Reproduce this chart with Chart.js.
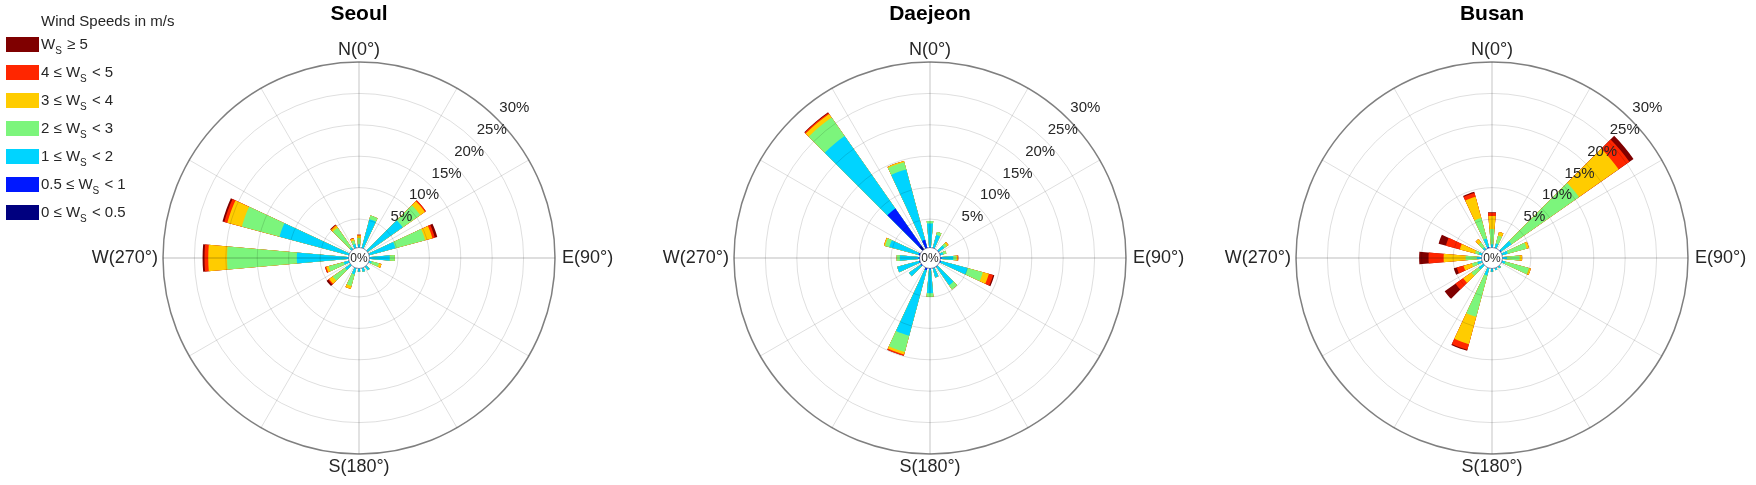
<!DOCTYPE html>
<html>
<head>
<meta charset="utf-8">
<title>Wind roses</title>
<script src="https://cdn.jsdelivr.net/npm/chart.js@4.4.1/dist/chart.umd.min.js"></script>
<style>
  body { margin: 0; background: #fff; }
  #wrap { position: relative; width: 1756px; height: 485px; }
  .layer { position: absolute; left: 0; top: 0; width: 1756px; height: 485px; }
</style>
</head>
<body>
<div id="wrap">
  <div class="layer"><canvas id="seoul"></canvas></div>
  <div class="layer"><canvas id="daejeon"></canvas></div>
  <div class="layer"><canvas id="busan"></canvas></div>
</div>
<script>
// direction sectors that carry data (degrees, clockwise from north)
const directions = [0, 20, 50, 70, 90, 110, 140, 160, 180, 200, 230, 250, 270, 290, 320, 340];

// speed classes, slowest first
const speedLabels = ['0 ≤ W_S < 0.5', '0.5 ≤ W_S < 1', '1 ≤ W_S < 2', '2 ≤ W_S < 3',
                     '3 ≤ W_S < 4', '4 ≤ W_S < 5', 'W_S ≥ 5'];
const speedColors = ['#00007f', '#0018ff', '#00d4ff', '#7cf57c', '#ffcc00', '#ff2600', '#7f0000'];

const rTicks = [5, 10, 15, 20, 25, 30]; // % frequency rings

// frequency (%) per speed class (rows, slowest first) and direction (columns)
const seoulFreq = [
  [0.1, 0.1, 0.1, 0.1, 0.1, 0.1, 0.1, 0.1, 0.1, 0.1, 0.1, 0.1, 0.1, 0.1, 0.1, 0.1],
  [0.2, 0.2, 0.2, 0.2, 0.2, 0.2, 0.3, 0.2, 0.2, 0.2, 0.2, 0.2, 0.3, 0.3, 0.2, 0.2],
  [0.7, 4.9, 7.0, 4.5, 3.4, 0.6, 0.8, 0.8, 0.7, 1.2, 1.2, 1.0, 8.3, 11.5, 0.6, 0.8],
  [1.0, 0.6, 3.4, 4.9, 0.8, 1.2, 0, 0, 0, 1.9, 2.4, 2.5, 11.1, 6.2, 3.8, 0.6],
  [0.4, 0, 0.9, 1.2, 0, 0.4, 0, 0, 0, 0.5, 0.7, 0.4, 3.0, 2.4, 0.4, 0.3],
  [0.1, 0, 0.2, 0.4, 0, 0, 0, 0, 0, 0, 0.2, 0.2, 0.6, 0.5, 0.1, 0.1],
  [0, 0, 0, 0.4, 0, 0, 0, 0, 0, 0, 0.3, 0, 0.3, 0.3, 0.1, 0]
];
const daejeonFreq = [
  [0.2, 0.2, 0.2, 0.2, 0.2, 0.2, 0.2, 0.2, 0.2, 0.3, 0.2, 0.2, 0.2, 0.2, 1.2, 0.5],
  [0.3, 0.3, 0.3, 0.3, 0.4, 0.4, 0.3, 0.3, 0.4, 0.5, 0.4, 0.4, 0.4, 0.5, 7.2, 1.3],
  [3.8, 2.1, 1.1, 0.5, 1.9, 4.4, 3.6, 1.5, 3.8, 10.8, 2.3, 3.6, 3.0, 4.8, 14.1, 11.6],
  [0.4, 0.5, 0.5, 0.5, 0.5, 2.5, 0.8, 0, 0.6, 2.7, 0, 0, 0.5, 0.7, 3.6, 1.2],
  [0, 0, 0.3, 0, 0.2, 1.0, 0, 0, 0, 0.4, 0, 0, 0, 0.2, 0.7, 0.2],
  [0, 0, 0, 0, 0.1, 0.7, 0, 0, 0, 0.2, 0, 0, 0, 0, 0.2, 0],
  [0, 0, 0, 0, 0, 0.2, 0, 0, 0, 0, 0, 0, 0, 0, 0.1, 0]
];
const busanFreq = [
  [0.1, 0.1, 0.2, 0.1, 0.1, 0.1, 0.1, 0.1, 0.1, 0.1, 0.1, 0.1, 0.1, 0.1, 0.1, 0.2],
  [0.3, 0.3, 0.4, 0.3, 0.3, 0.3, 0.3, 0.3, 0.3, 0.3, 0.3, 0.3, 0.3, 0.3, 0.3, 0.4],
  [0.6, 0.8, 2.0, 1.0, 0.8, 0.6, 0.4, 0.4, 0.6, 1.3, 1.0, 0.8, 0.8, 0.6, 0.5, 1.4],
  [2.4, 1.3, 13.1, 3.1, 2.0, 3.9, 0, 0, 0, 6.8, 1.4, 0.9, 1.8, 0.6, 0.9, 3.4],
  [2.1, 0.6, 7.7, 0.4, 0.4, 0.3, 0, 0, 0, 4.5, 1.6, 1.4, 3.5, 2.5, 0.7, 3.5],
  [0.5, 0, 2.1, 0, 0, 0, 0, 0, 0, 0.9, 1.5, 1.1, 2.4, 2.3, 0, 0.6],
  [0.1, 0, 0.8, 0, 0, 0, 0, 0, 0, 0.2, 2.1, 0.5, 1.5, 1.2, 0, 0.2]
];

const FONT = '"Liberation Sans", Arial, sans-serif';
const TEXT = '#262626';
const W = 1756, H = 485, R = 196, CY = 258;

function drawLegend(ctx) {
  ctx.save();
  ctx.textAlign = 'left';
  ctx.textBaseline = 'middle';
  ctx.fillStyle = TEXT;
  ctx.font = '15px ' + FONT;
  ctx.fillText('Wind Speeds in m/s', 41, 22);
  for (let i = 0; i < speedLabels.length; i++) {
    const k = speedLabels.length - 1 - i;
    const y = 37 + i * 28;
    ctx.fillStyle = speedColors[k];
    ctx.fillRect(6, y, 33, 15);
    const parts = speedLabels[k].split('W_S');
    let x = 41;
    const ty = y + 8;
    ctx.fillStyle = TEXT;
    ctx.font = '15px ' + FONT;
    ctx.fillText(parts[0] + 'W', x, ty);
    x += ctx.measureText(parts[0] + 'W').width;
    ctx.font = '10px ' + FONT;
    ctx.fillText('S', x, ty + 6);
    x += ctx.measureText('S').width + 1;
    ctx.font = '15px ' + FONT;
    ctx.fillText(parts[1], x, ty);
  }
  ctx.restore();
}

function roseDecor(city) {
  return {
    id: 'roseDecor',
    afterDatasetsDraw(chart) {
      // radial spokes every 30 degrees
      const s = chart.scales.r, ctx = chart.ctx;
      const r0 = s.getDistanceFromCenterForValue(0);
      ctx.save();
      ctx.strokeStyle = 'rgba(0,0,0,0.13)';
      for (let a = 0; a < 360; a += 30) {
        const t = a * Math.PI / 180;
        ctx.lineWidth = a % 90 === 0 ? 1.8 : 1;
        ctx.beginPath();
        ctx.moveTo(s.xCenter + r0 * Math.sin(t), s.yCenter - r0 * Math.cos(t));
        ctx.lineTo(s.xCenter + s.drawingArea * Math.sin(t), s.yCenter - s.drawingArea * Math.cos(t));
        ctx.stroke();
      }
      ctx.restore();
    },
    afterDraw(chart) {
      const s = chart.scales.r, ctx = chart.ctx;
      const cx = s.xCenter, cy = s.yCenter, rad = s.drawingArea;
      ctx.save();
      // centre disk
      ctx.beginPath();
      ctx.arc(cx, cy, 10.5, 0, Math.PI * 2);
      ctx.fillStyle = '#fff';
      ctx.fill();
      ctx.strokeStyle = 'rgba(60,60,110,0.55)';
      ctx.lineWidth = 1;
      ctx.stroke();
      ctx.fillStyle = TEXT;
      ctx.textAlign = 'center';
      ctx.textBaseline = 'middle';
      ctx.font = '12px ' + FONT;
      ctx.fillText('0%', cx, cy + 0.5);
      // ring labels
      ctx.font = '15px ' + FONT;
      const ang = 46 * Math.PI / 180;
      rTicks.forEach(v => {
        const d = s.getDistanceFromCenterForValue(v) + 20;
        ctx.fillText(v + '%', cx + d * Math.sin(ang), cy - d * Math.cos(ang));
      });
      // compass labels
      ctx.font = '18px ' + FONT;
      ctx.fillText('N(0°)', cx, cy - rad - 12);
      ctx.fillText('S(180°)', cx, cy + rad + 13);
      ctx.textAlign = 'right';
      ctx.fillText('W(270°)', cx - rad - 5, cy);
      ctx.textAlign = 'left';
      ctx.fillText('E(90°)', cx + rad + 7, cy);
      // title
      ctx.textAlign = 'center';
      ctx.fillStyle = '#000';
      ctx.font = 'bold 21px ' + FONT;
      ctx.fillText(city.name, cx, 14);
      ctx.restore();
      if (city.legend) drawLegend(ctx);
    }
  };
}

function makeRose(city) {
  const bins = 36;
  const labels = Array.from({ length: bins }, (_, i) => String(i * 10));
  const datasets = speedColors.map((color, k) => {
    const data = new Array(bins).fill(0);
    directions.forEach((d, j) => {
      let sum = 0;
      for (let m = 0; m <= k; m++) sum += city.freq[m][j];
      data[d / 10] = sum; // cumulative, drawn slowest on top
    });
    return { label: speedLabels[k], data, backgroundColor: color, borderWidth: 0 };
  });

  return new Chart(document.getElementById(city.id), {
    type: 'polarArea',
    data: { labels, datasets },
    options: {
      responsive: true,
      maintainAspectRatio: false,
      animation: false,
      events: [],
      layout: { padding: { left: city.cx - R, right: W - city.cx - R, top: CY - R, bottom: H - CY - R } },
      scales: {
        r: {
          min: -1.2,
          max: 30,
          startAngle: -5,
          ticks: { display: false, stepSize: 5 },
          pointLabels: { display: false },
          angleLines: { display: false },
          grid: {
            z: 1,
            circular: true,
            color: c => {
              const v = c.tick ? c.tick.value : 0;
              if (v >= 30) return 'rgba(0,0,0,0.5)';
              return v > 0 ? 'rgba(0,0,0,0.13)' : 'rgba(0,0,0,0)';
            },
            lineWidth: c => (c.tick && c.tick.value >= 30 ? 1.5 : 1)
          }
        }
      },
      plugins: { legend: { display: false }, tooltip: { enabled: false } }
    },
    plugins: [roseDecor(city)]
  });
}

makeRose({ id: 'seoul', name: 'Seoul', cx: 359, freq: seoulFreq, legend: true });
makeRose({ id: 'daejeon', name: 'Daejeon', cx: 930, freq: daejeonFreq, legend: false });
makeRose({ id: 'busan', name: 'Busan', cx: 1492, freq: busanFreq, legend: false });
</script>
</body>
</html>
